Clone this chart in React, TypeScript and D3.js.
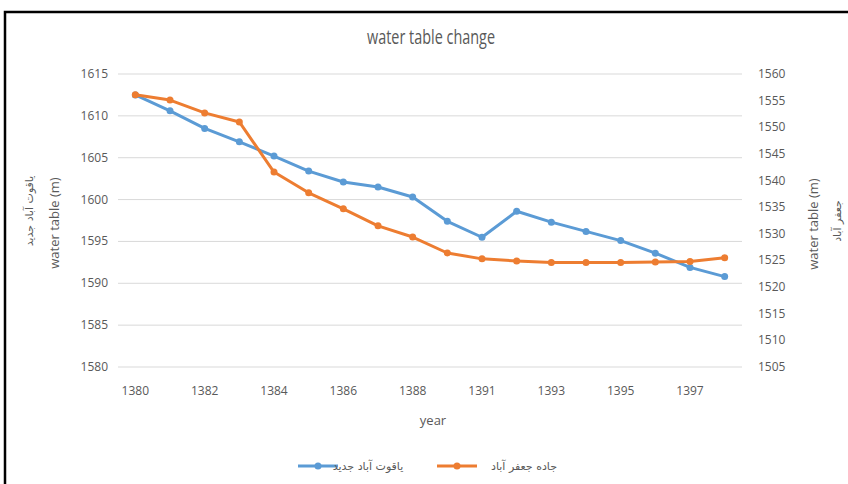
import React from "react";
import * as d3 from "d3";

// years on the x axis (every second one is labelled)
const years = ["1380", "1381", "1382", "1383", "1384", "1385", "1386", "1387", "1388", "1390",
  "1391", "1392", "1393", "1394", "1395", "1396", "1397", "1398"];
const xLabels = ["1380", "1382", "1384", "1386", "1388", "1391", "1393", "1395", "1397"];

// left axis series: یاقوت آباد جدید
const yaghoot = [1612.5, 1610.6, 1608.5, 1606.9, 1605.2, 1603.4, 1602.1, 1601.5, 1600.3, 1597.4,
  1595.5, 1598.6, 1597.3, 1596.2, 1595.1, 1593.6, 1591.9, 1590.8];
// right axis series: جاده جعفر آباد
const jafar = [1556.1, 1555.1, 1552.7, 1551.0, 1541.6, 1537.7, 1534.7, 1531.5, 1529.4, 1526.4,
  1525.3, 1524.9, 1524.6, 1524.6, 1524.6, 1524.7, 1524.8, 1525.5];

const leftTicks = [1580, 1585, 1590, 1595, 1600, 1605, 1610, 1615];
const rightTicks = [1505, 1510, 1515, 1520, 1525, 1530, 1535, 1540, 1545, 1550, 1555, 1560];

const blue = "#5B9BD5";
const orange = "#ED7D31";
const grey = "#595959";
const font = "'Open Sans', sans-serif";
const arFont = "'DejaVu Sans', sans-serif";

export default function App() {
  const W = 848, H = 484;
  const left = 118, right = 742, top = 74, bottom = 367;

  const x = d3.scaleBand().domain(years).range([left, right]);
  const cx = (d: string) => (x(d) as number) + x.bandwidth() / 2;
  const yL = d3.scaleLinear().domain([1580, 1615]).range([bottom, top]);
  const yR = d3.scaleLinear().domain([1505, 1560]).range([bottom, top]);

  const lineL = d3.line<number>().x((d, i) => cx(years[i])).y(d => yL(d));
  const lineR = d3.line<number>().x((d, i) => cx(years[i])).y(d => yR(d));

  return (
    <svg width={W} height={H} style={{ position: "absolute", left: 0, top: 0, background: "#fff" }}>
      <rect x={5} y={12} width={900} height={520} fill="#fff" stroke="#000" strokeWidth={2.5} />

      <text x={431} y={44} textAnchor="middle" fontFamily={font} fontSize={20} fill={grey}
        textLength={128} lengthAdjust="spacingAndGlyphs">water table change</text>

      {/* gridlines */}
      {leftTicks.map(t => (
        <line key={t} x1={left} x2={right} y1={yL(t)} y2={yL(t)} stroke="#D9D9D9" strokeWidth={1} />
      ))}

      {/* left ticks */}
      {leftTicks.map(t => (
        <text key={"l" + t} x={108} y={yL(t) + 4} textAnchor="end" fontFamily={font} fontSize={12} fill={grey}>{t}</text>
      ))}
      {/* right ticks */}
      {rightTicks.map(t => (
        <text key={"r" + t} x={758} y={yR(t) + 4} textAnchor="start" fontFamily={font} fontSize={12} fill={grey}>{t}</text>
      ))}
      {/* x labels */}
      {xLabels.map(t => (
        <text key={"x" + t} x={cx(t)} y={395} textAnchor="middle" fontFamily={font} fontSize={12} fill={grey}>{t}</text>
      ))}

      <text x={433} y={425} textAnchor="middle" fontFamily={font} fontSize={13} fill={grey}>year</text>

      {/* left axis title */}
      <g transform="translate(59,223) rotate(-90)">
        <text textAnchor="middle" fontFamily={font} fontSize={13} fill={grey}>water table (m)</text>
      </g>
      <g transform="translate(33,211) rotate(-90)">
        <text textAnchor="middle" fontFamily={arFont} fontSize={11} fill={grey}>یاقوت آباد جدید</text>
      </g>
      {/* right axis title */}
      <g transform="translate(818,224) rotate(-90)">
        <text textAnchor="middle" fontFamily={font} fontSize={13} fill={grey}>water table (m)</text>
      </g>
      <g transform="translate(841,221) rotate(-90)">
        <text textAnchor="middle" fontFamily={arFont} fontSize={11} fill={grey}>جعفر آباد</text>
      </g>

      {/* series */}
      <path d={lineL(yaghoot) || ""} fill="none" stroke={blue} strokeWidth={3} strokeLinejoin="round" />
      {yaghoot.map((v, i) => (
        <circle key={"b" + i} cx={cx(years[i])} cy={yL(v)} r={3.5} fill={blue} />
      ))}
      <path d={lineR(jafar) || ""} fill="none" stroke={orange} strokeWidth={3} strokeLinejoin="round" />
      {jafar.map((v, i) => (
        <circle key={"o" + i} cx={cx(years[i])} cy={yR(v)} r={3.5} fill={orange} />
      ))}

      {/* legend */}
      <line x1={298} x2={338} y1={466} y2={466} stroke={blue} strokeWidth={3} />
      <circle cx={318} cy={466} r={3.5} fill={blue} />
      <text x={368} y={470} textAnchor="middle" fontFamily={arFont} fontSize={11} fill={grey}>یاقوت آباد جدید</text>
      <line x1={437} x2={477} y1={466} y2={466} stroke={orange} strokeWidth={3} />
      <circle cx={457} cy={466} r={3.5} fill={orange} />
      <text x={524} y={470} textAnchor="middle" fontFamily={arFont} fontSize={11} fill={grey}>جاده جعفر آباد</text>
    </svg>
  );
}
